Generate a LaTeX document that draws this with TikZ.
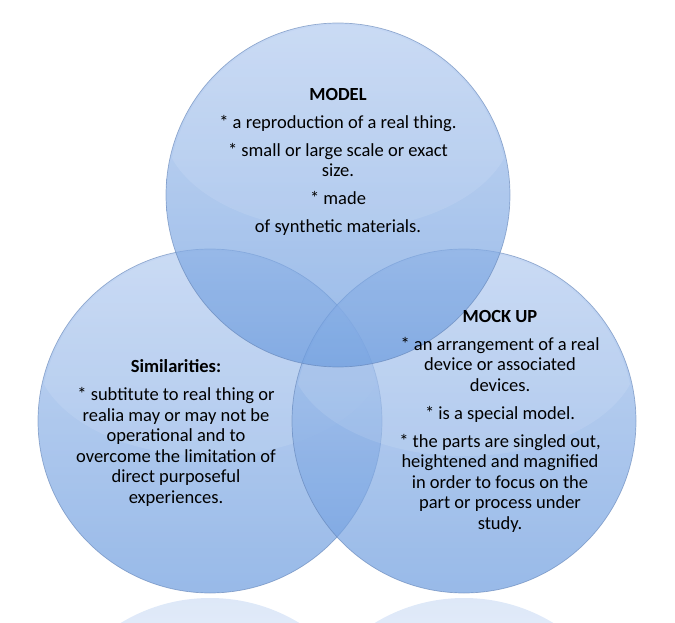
\documentclass[tikz,border=0pt]{standalone}
\usepackage{fontspec}
\setmainfont{Carlito}
\definecolor{ballTop}{RGB}{172,198,238}
\definecolor{ballBottom}{RGB}{108,156,222}
\definecolor{ballEdge}{RGB}{95,128,180}

\begin{document}
\begin{tikzpicture}[x=1pt, y=-1pt,
	ball/.style={top color=ballTop, bottom color=ballBottom, fill opacity=0.7, draw=ballEdge, draw opacity=0.6, line width=0.7pt},
	gloss/.style={fill=white, fill opacity=0.1, draw=none},
	mirror/.style={top color=ballTop!40, bottom color=white, draw=none},
	label/.style={align=center, inner sep=0pt, font=\fontsize{18.5}{20.5}\selectfont}]

	\useasboundingbox (0,0) rectangle (675,623);

	% Reflections
	\begin{scope}
		\clip (0,597) rectangle (675,623);
		\shade[mirror] (210,770) circle (172);
		\shade[mirror] (464,770) circle (172);
	\end{scope}

	% Circles
	\foreach \cx/\cy in {210/421, 464/421, 338/195} {
		\shade[ball] (\cx,\cy) circle (172);
		\begin{scope}
			\clip (\cx,\cy) circle (170);
			\fill[gloss] (\cx,\cy-70) ellipse (175 and 105);
		\end{scope}
	}

	% Texts
	\node[label] (model) at (338,162) {\textbf{MODEL}\\[7.5pt]
		* a reproduction of a real thing.\\[7.5pt]
		* small or large scale or exact\\ size.\\[7.5pt]
		* made\\[7.5pt]
		of synthetic materials.};
	\node[label] (similar) at (176,433) {\textbf{Similarities:}\\[7.5pt]
		* subtitute to real thing or\\ realia may or may not be\\ operational and to\\ overcome the limitation of\\ direct purposeful\\ experiences.};
	\node[label] (mockup) at (500,421) {\textbf{MOCK UP}\\[7.5pt]
		* an arrangement of a real\\ device or associated\\ devices.\\[7.5pt]
		* is a special model.\\[7.5pt]
		* the parts are singled out,\\ heightened and magnified\\ in order to focus on the\\ part or process under\\ study.};
\end{tikzpicture}
\end{document}
